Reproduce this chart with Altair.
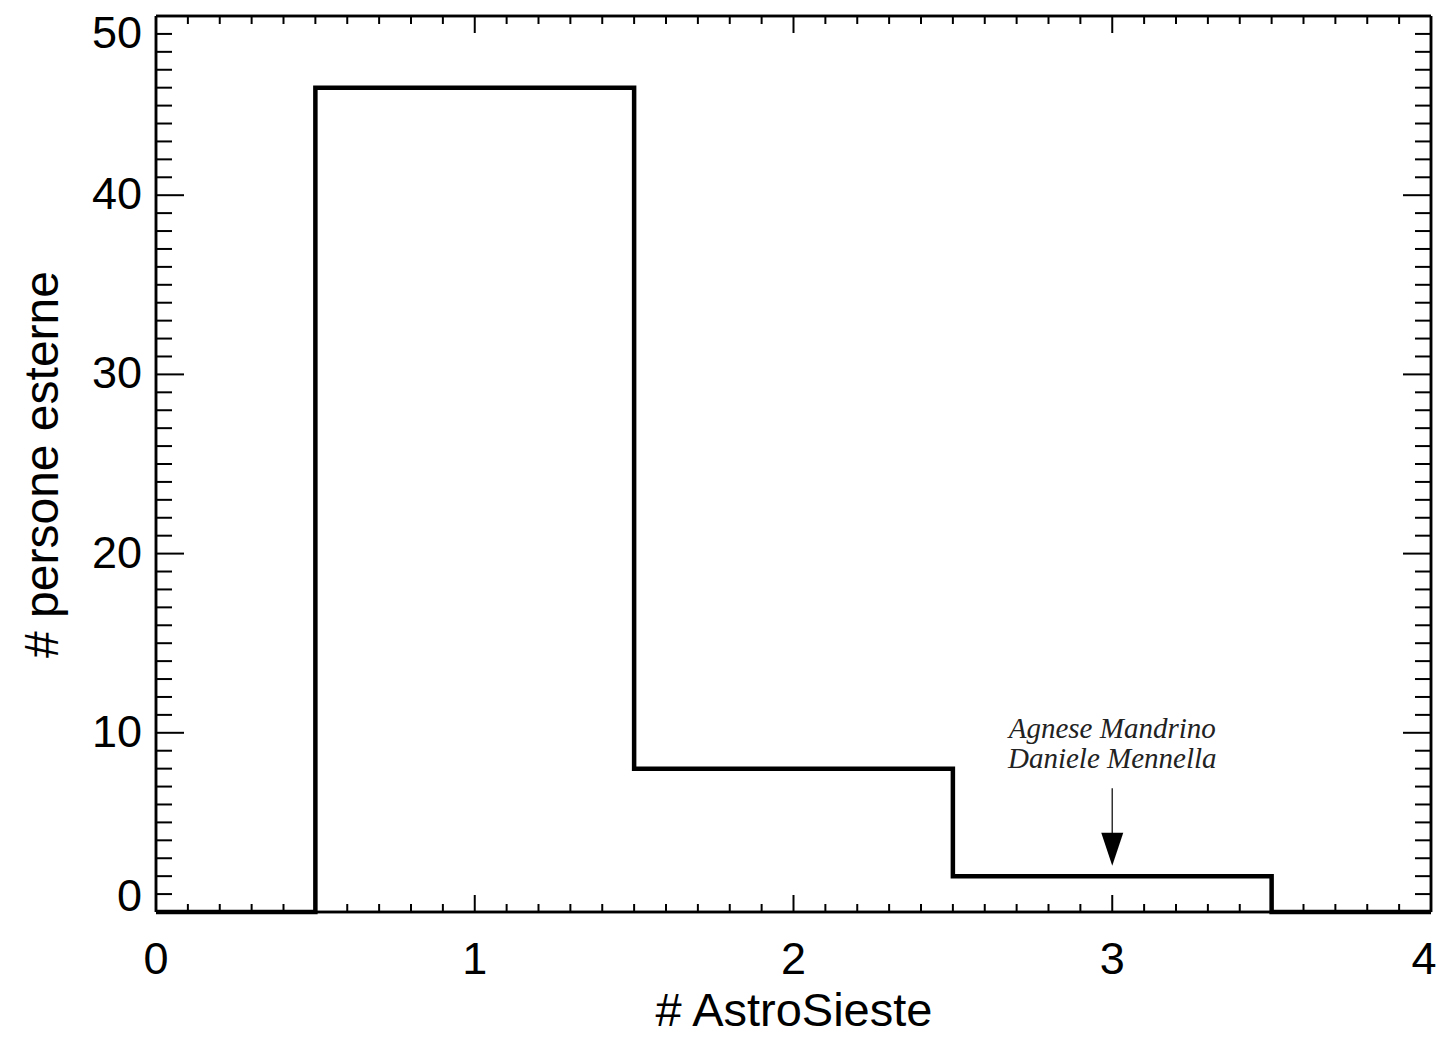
import altair as alt
import pandas as pd
import numpy as np

# Histogram data: number of AstroSieste attended vs. number of external people
n_astrosieste = [0, 1, 2, 3, 4]
n_persone = [0, 46, 8, 2, 0]

x_major = [0, 1, 2, 3, 4]
x_minor = [round(v, 1) for v in np.arange(0, 4.01, 0.1) if abs(v - round(v)) > 1e-6]
y_major = [0, 10, 20, 30, 40, 50]
y_minor = [v for v in range(0, 51) if v % 10 != 0]

# tick labels
x_lab_main = [0, 1, 2, 3]
x_lab_last = [4]
y_lab_mid = [10, 20, 30, 40]
y_lab_bottom = [0]
y_lab_top = [50]

annot_lines = ["Agnese Mandrino", "Daniele Mennella"]
annot_x = [3, 3]
annot_y = [9.7, 8.05]
arrow_x = [3]
arrow_y_top = [6.9]
arrow_y_bot = [4.4]
arrow_head_y = [3.5]

W, H = 1275, 896
FONT = "Liberation Sans"
LBL = 45

hist = pd.DataFrame({"x": n_astrosieste, "y": n_persone})
xs = alt.Scale(domain=[0, 4], nice=False, zero=False)
ys = alt.Scale(domain=[0, 50], nice=False, zero=False)

line = alt.Chart(hist).mark_line(interpolate="step", color="black", strokeWidth=4.5).encode(
    x=alt.X("x:Q", scale=xs, title="# AstroSieste",
            axis=alt.Axis(values=x_major, labels=False, titleFontSize=47,
                          titleFont=FONT, titleFontWeight="normal", titleColor="black",
                          titlePadding=76, domain=False, ticks=False, grid=False)),
    y=alt.Y("y:Q", scale=ys, title="# persone esterne",
            axis=alt.Axis(values=y_major, labels=False, titleFontSize=48,
                          titleFont=FONT, titleFontWeight="normal", titleColor="black",
                          titlePadding=89, domain=False, ticks=False, grid=False)),
)

def ylabels(vals, dy):
    df = pd.DataFrame({"y": vals, "t": [str(v) for v in vals]})
    return alt.Chart(df).mark_text(font=FONT, fontSize=LBL, color="black", align="right",
                                   baseline="middle", dy=dy).encode(
        y=alt.Y("y:Q", scale=ys), x=alt.value(-14), text="t:N")

def xlabels(vals, dx):
    df = pd.DataFrame({"x": vals, "t": [str(v) for v in vals]})
    return alt.Chart(df).mark_text(font=FONT, fontSize=LBL, color="black", align="center",
                                   baseline="alphabetic", dx=dx).encode(
        x=alt.X("x:Q", scale=xs), y=alt.value(H + 62), text="t:N")

labs = [ylabels(y_lab_mid, 0), ylabels(y_lab_bottom, -15), ylabels(y_lab_top, 18),
        xlabels(x_lab_main, 0), xlabels(x_lab_last, -7)]

def xticks(vals, length):
    df = pd.DataFrame({"x": vals})
    b = alt.Chart(df).mark_rule(color="black", strokeWidth=2).encode(
        x=alt.X("x:Q", scale=xs), y=alt.value(H), y2=alt.value(H - length))
    t = alt.Chart(df).mark_rule(color="black", strokeWidth=2).encode(
        x=alt.X("x:Q", scale=xs), y=alt.value(0), y2=alt.value(length))
    return [b, t]

def yticks(vals, length):
    df = pd.DataFrame({"y": vals})
    l = alt.Chart(df).mark_rule(color="black", strokeWidth=2).encode(
        y=alt.Y("y:Q", scale=ys), x=alt.value(0), x2=alt.value(length))
    r = alt.Chart(df).mark_rule(color="black", strokeWidth=2).encode(
        y=alt.Y("y:Q", scale=ys), x=alt.value(W), x2=alt.value(W - length))
    return [l, r]

ticks = xticks(x_major, 17) + xticks(x_minor, 8) + yticks(y_major, 28) + yticks(y_minor, 16)

# frame
frame_df = pd.DataFrame({"x": [0, 4]})
frame = [
    alt.Chart(frame_df).mark_rule(color="black", strokeWidth=2.5).encode(
        x=alt.value(0), x2=alt.value(W), y=alt.value(0)),
    alt.Chart(frame_df).mark_rule(color="black", strokeWidth=2.5).encode(
        x=alt.value(0), x2=alt.value(W), y=alt.value(H)),
    alt.Chart(frame_df).mark_rule(color="black", strokeWidth=2.5).encode(
        y=alt.value(0), y2=alt.value(H), x=alt.value(0)),
    alt.Chart(frame_df).mark_rule(color="black", strokeWidth=2.5).encode(
        y=alt.value(0), y2=alt.value(H), x=alt.value(W)),
]

annot = alt.Chart(pd.DataFrame({"x": annot_x, "y": annot_y, "t": annot_lines})).mark_text(
    font="Liberation Serif", fontStyle="italic", fontSize=29, color="#222222",
    align="center", baseline="alphabetic").encode(
    x=alt.X("x:Q", scale=xs), y=alt.Y("y:Q", scale=ys), text="t:N")

shaft = alt.Chart(pd.DataFrame({"x": arrow_x, "y": arrow_y_top, "y2": arrow_y_bot})).mark_rule(
    color="#333333", strokeWidth=1.5).encode(
    x=alt.X("x:Q", scale=xs), y=alt.Y("y:Q", scale=ys), y2="y2:Q")

head = alt.Chart(pd.DataFrame({"x": arrow_x, "y": arrow_head_y})).mark_point(
    shape="M -1 -1.5 L 1 -1.5 L 0 1.5 Z", filled=True, color="black", opacity=1,
    size=484, strokeWidth=0).encode(
    x=alt.X("x:Q", scale=xs), y=alt.Y("y:Q", scale=ys))

chart = alt.layer(line, *frame, *ticks, *labs, shaft, head, annot).properties(
    width=W, height=H,
    autosize=alt.AutoSizeParams(type="none"),
    padding={"left": 148, "top": 8, "right": 6, "bottom": 123},
).configure_view(stroke=None).configure(background="white")

chart.save("out.html", embed_options={"renderer": "svg", "actions": False})
